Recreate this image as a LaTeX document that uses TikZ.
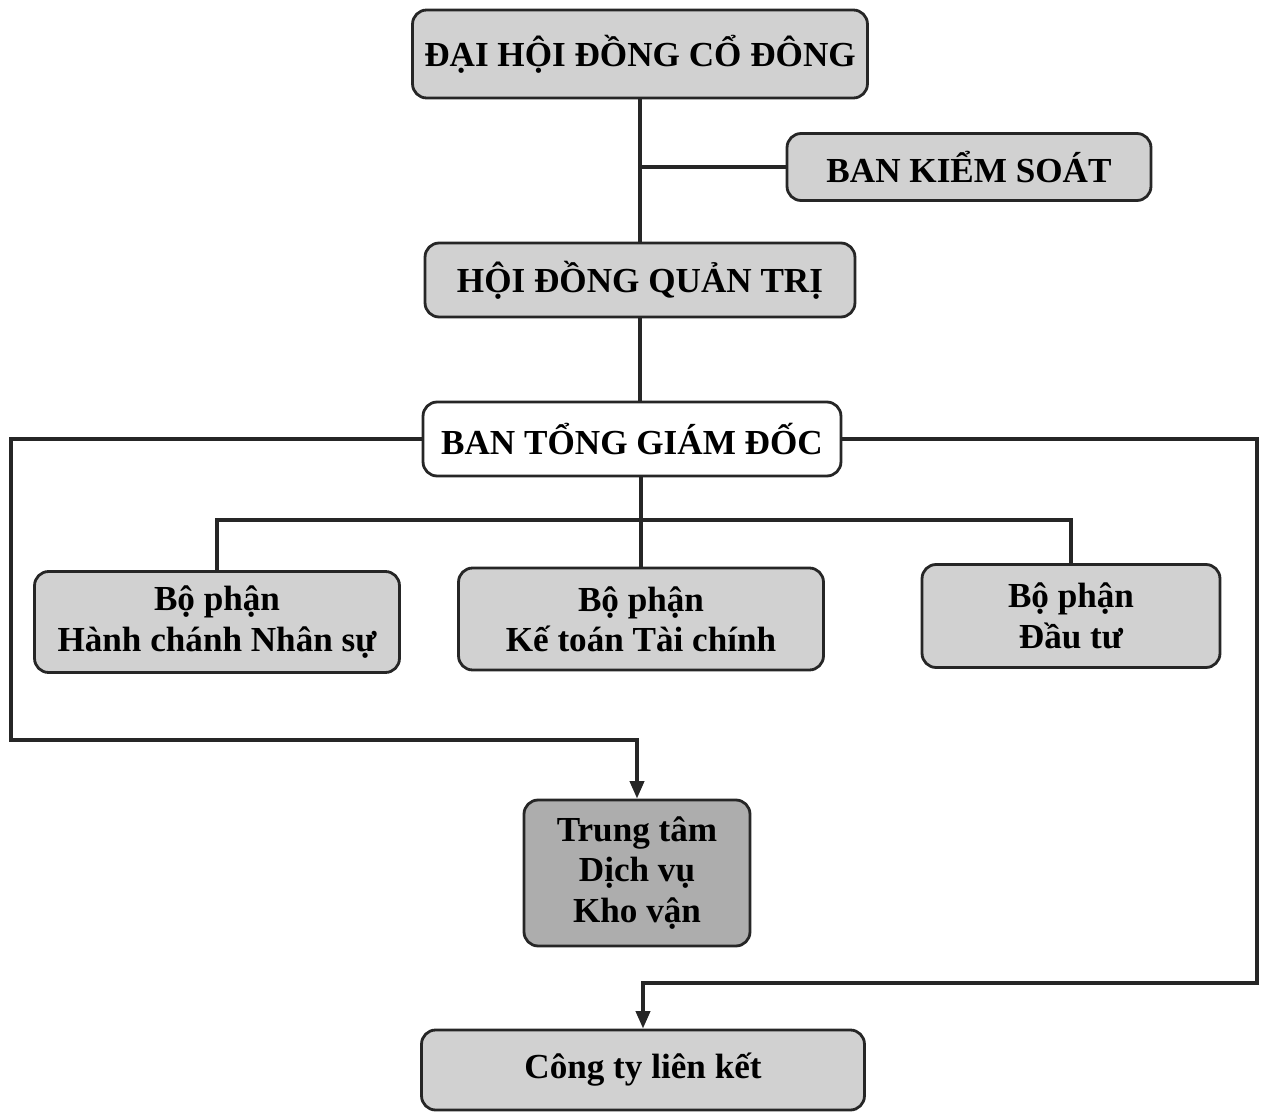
\documentclass[tikz,border=0pt]{standalone}
\usepackage{fontspec}
\setmainfont{Liberation Serif}
\usepackage{tikz}
\usetikzlibrary{positioning,arrows.meta}

\tikzset{
	box/.style={draw=black!85, line width=1.6pt, rounded corners=8pt, fill=black!18, align=center, inner sep=0pt, font=\bfseries\fontsize{20}{23}\selectfont},
	link/.style={line width=2.2pt, draw=black!85},
	arr/.style={link, -{Triangle[length=10pt,width=8pt]}}
}

\begin{document}
\begin{tikzpicture}[x=0.02cm, y=-0.02cm]
	\useasboundingbox (0,0) rectangle (1262,1112);
	\node[box, minimum width=9.1cm, minimum height=1.76cm] (dhdcd) at (640,54) {ĐẠI HỘI ĐỒNG CỔ ĐÔNG};
	\node[box, minimum width=7.28cm, minimum height=1.34cm] (bks) at (969,167) {BAN KIỂM SOÁT};
	\node[box, minimum width=8.6cm, minimum height=1.48cm] (hdqt) at (640,280) {HỘI ĐỒNG QUẢN TRỊ};
	\node[box, fill=white, minimum width=8.36cm, minimum height=1.48cm] (btgd) at (632,439) {BAN TỔNG GIÁM ĐỐC};
	\node[box, minimum width=7.3cm, minimum height=2.02cm] (hcns) at (217,622) {Bộ phận\\Hành chánh Nhân sự};
	\node[box, minimum width=7.3cm, minimum height=2.04cm] (kttc) at (641,619) {Bộ phận\\Kế toán Tài chính};
	\node[box, minimum width=5.96cm, minimum height=2.06cm] (dautu) at (1071,616) {Bộ phận\\Đầu tư};
	\node[box, fill=black!32, minimum width=4.52cm, minimum height=2.92cm] (ttdv) at (637,873) {Trung tâm\\Dịch vụ\\Kho vận};
	\node[box, minimum width=8.86cm, minimum height=1.6cm] (ctlk) at (643,1070) {Công ty liên kết};

	\coordinate (bus) at (641,520);
	\coordinate (lc) at (11,740);
	\coordinate (rc) at (1257,983);

	\draw[link] (dhdcd.south) -- (hdqt.north);
	\draw[link] (bks.west) -- (bks.west -| dhdcd.south);
	\draw[link] (hdqt.south) -- (hdqt.south |- btgd.north);
	\draw[link] (btgd.south -| bus) -- (bus);
	\draw[link] (hcns.north) |- (bus) -| (dautu.north);
	\draw[link] (bus) -- (kttc.north);
	\draw[arr] (btgd.west) -| (lc) -| (ttdv.north);
	\draw[arr] (btgd.east) -| (rc) -| (ctlk.north);
\end{tikzpicture}
\end{document}
